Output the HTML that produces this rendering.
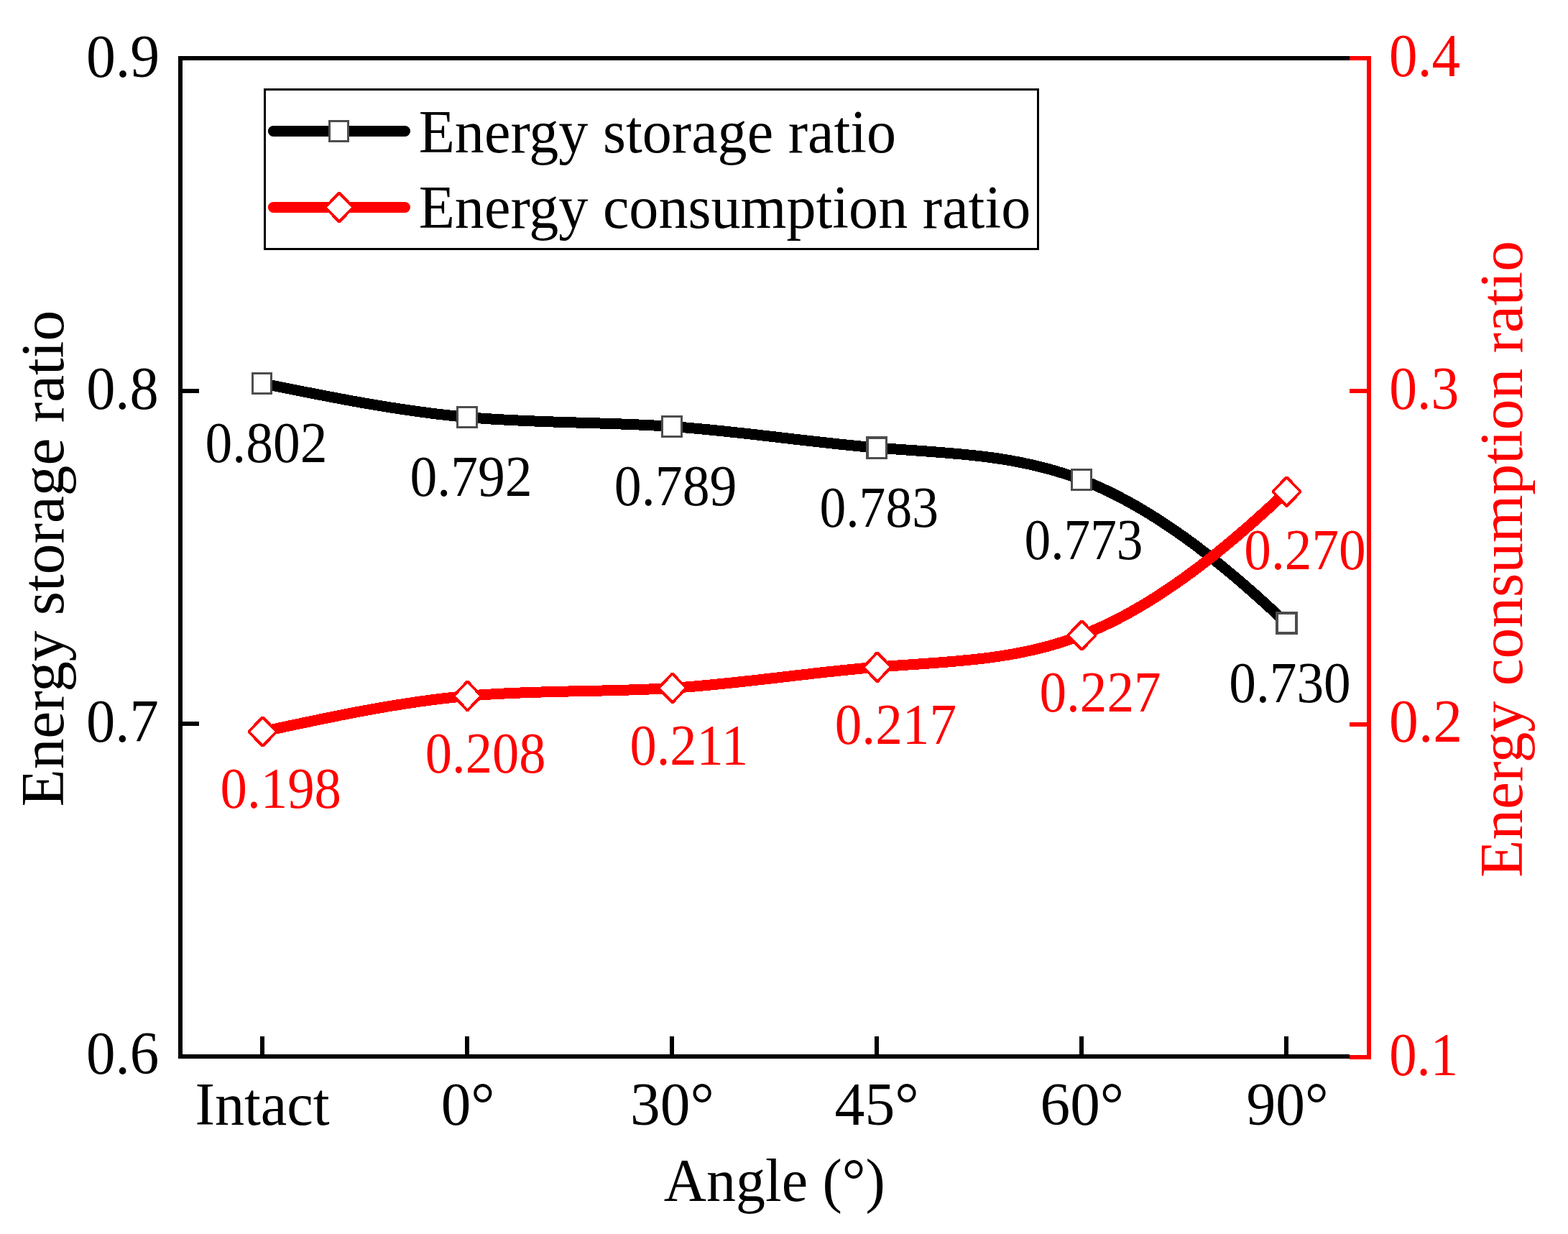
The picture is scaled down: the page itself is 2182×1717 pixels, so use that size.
<!DOCTYPE html>
<html lang="en"><head><meta charset="utf-8"><title>Energy storage and consumption ratio vs angle</title>
<style>html,body{margin:0;padding:0;background:#fff}body{width:2182px;height:1717px}svg{display:block}text{font-family:"Liberation Serif","DejaVu Serif",serif;white-space:pre}</style></head><body>
<svg width="2182" height="1717" viewBox="0 0 2182 1717">
<rect width="2182" height="1717" fill="#fff"/>
<g shape-rendering="crispEdges">
<rect x="248" y="78" width="6" height="1395" fill="#000000"/>
<rect x="248" y="78" width="1630" height="6" fill="#000000"/>
<rect x="248" y="1467" width="1630" height="6" fill="#000000"/>
<rect x="254" y="541" width="23" height="6" fill="#000000"/>
<rect x="254" y="1004" width="23" height="6" fill="#000000"/>
<rect x="362" y="1442" width="6" height="25" fill="#000000"/>
<rect x="647" y="1442" width="6" height="25" fill="#000000"/>
<rect x="932" y="1442" width="6" height="25" fill="#000000"/>
<rect x="1217" y="1442" width="6" height="25" fill="#000000"/>
<rect x="1502" y="1442" width="6" height="25" fill="#000000"/>
<rect x="1787" y="1442" width="6" height="25" fill="#000000"/>
<rect x="1902" y="78" width="6" height="1396" fill="#ff0000"/>
<rect x="1878" y="78" width="24" height="6" fill="#ff0000"/>
<rect x="1878" y="541" width="24" height="6" fill="#ff0000"/>
<rect x="1878" y="1004.5" width="24" height="6" fill="#ff0000"/>
<rect x="1878" y="1468" width="24" height="6" fill="#ff0000"/>
</g>
<text transform="translate(119.89,106.80) scale(0.9570,1)" font-size="85.5" fill="#000000">0.9</text>
<text transform="translate(120.14,568.65) scale(0.9406,1)" font-size="85.5" fill="#000000">0.8</text>
<text transform="translate(120.04,1031.70) scale(0.9422,1)" font-size="85.5" fill="#000000">0.7</text>
<text transform="translate(119.92,1494.45) scale(0.9475,1)" font-size="85.5" fill="#000000">0.6</text>
<text transform="translate(271.52,1564.92) scale(0.9616,1)" font-size="85.5" fill="#000000">Intact</text>
<text transform="translate(613.64,1564.65) scale(0.9727,1)" font-size="85.5" fill="#000000">0°</text>
<text transform="translate(877.10,1564.65) scale(0.9758,1)" font-size="85.5" fill="#000000">30°</text>
<text transform="translate(1161.59,1564.65) scale(0.9793,1)" font-size="85.5" fill="#000000">45°</text>
<text transform="translate(1447.55,1565.25) scale(0.9736,1)" font-size="85.5" fill="#000000">60°</text>
<text transform="translate(1734.58,1565.00) scale(0.9534,1)" font-size="85.5" fill="#000000">90°</text>
<text transform="translate(1933.09,105.60) scale(0.9252,1)" font-size="85.5" fill="#ff0000">0.4</text>
<text transform="translate(1933.25,568.95) scale(0.9077,1)" font-size="85.5" fill="#ff0000">0.3</text>
<text transform="translate(1933.10,1032.20) scale(0.9545,1)" font-size="85.5" fill="#ff0000">0.2</text>
<text transform="translate(1933.18,1495.50) scale(0.8975,1)" font-size="85.5" fill="#ff0000">0.1</text>
<text transform="translate(923.78,1671.30) scale(0.9584,1)" font-size="85.5" fill="#000000">Angle (°)</text>
<text transform="translate(88.10,1122.50) rotate(-90) scale(0.9988,1)" font-size="85.5" fill="#000000">Energy storage ratio</text>
<text transform="translate(2117.90,1220.90) rotate(-90) scale(0.9995,1)" font-size="85.5" fill="#ff0000">Energy consumption ratio</text>
<g shape-rendering="crispEdges">
<path d="M365.00,533.50 C460.00,552.72 555.00,571.94 650.00,580.50 C745.00,589.06 840.00,586.95 935.00,593.50 C1030.00,600.05 1125.00,615.26 1220.00,623.00 C1315.00,630.74 1410.00,631.00 1505.00,667.50 C1600.00,704.00 1695.00,776.75 1790.00,867.00" fill="none" stroke="#000000" stroke-width="15.0" stroke-linecap="butt" stroke-linejoin="round"/>
<path d="M365.00,1018.00 C460.00,997.46 555.00,976.92 650.00,968.40 C745.00,959.88 840.00,963.39 935.00,957.40 C1030.00,951.41 1125.00,935.93 1220.00,928.20 C1315.00,920.47 1410.00,920.51 1505.00,884.00 C1600.00,847.49 1695.00,774.45 1790.00,684.20" fill="none" stroke="#ff0000" stroke-width="15.0" stroke-linecap="butt" stroke-linejoin="round"/>
<rect x="350" y="518" width="29" height="31" fill="#4d4d4d"/><rect x="353" y="521" width="23" height="25" fill="#fff"/>
<rect x="635" y="565" width="30" height="31" fill="#4d4d4d"/><rect x="638" y="568" width="24" height="25" fill="#fff"/>
<rect x="920" y="578" width="30" height="31" fill="#4d4d4d"/><rect x="923" y="581" width="24" height="25" fill="#fff"/>
<rect x="1205" y="607" width="30" height="32" fill="#4d4d4d"/><rect x="1208.5" y="610.5" width="23" height="25" fill="#fff"/>
<rect x="1490" y="652" width="30" height="31" fill="#4d4d4d"/><rect x="1493" y="655" width="24" height="25" fill="#fff"/>
<rect x="1775" y="851" width="31" height="32" fill="#4d4d4d"/><rect x="1778.8" y="854.8" width="23.4" height="24.4" fill="#fff"/>
<path d="M344.85,1016.70 L363.75,996.60 L367.25,996.60 L386.15,1016.70 L386.15,1019.30 L367.25,1039.40 L363.75,1039.40 L344.85,1019.30 Z" fill="#ff0000"/><path d="M348.80,1018.00 L365.50,1000.75 L382.20,1018.00 L365.50,1035.25 Z" fill="#fff"/>
<path d="M629.85,967.10 L648.75,947.00 L652.25,947.00 L671.15,967.10 L671.15,969.70 L652.25,989.80 L648.75,989.80 L629.85,969.70 Z" fill="#ff0000"/><path d="M633.80,968.40 L650.50,951.15 L667.20,968.40 L650.50,985.65 Z" fill="#fff"/>
<path d="M915.05,956.10 L933.95,936.00 L937.45,936.00 L956.35,956.10 L956.35,958.70 L937.45,978.80 L933.95,978.80 L915.05,958.70 Z" fill="#ff0000"/><path d="M919.00,957.40 L935.70,940.15 L952.40,957.40 L935.70,974.65 Z" fill="#fff"/>
<path d="M1200.15,926.90 L1219.05,906.80 L1222.55,906.80 L1241.45,926.90 L1241.45,929.50 L1222.55,949.60 L1219.05,949.60 L1200.15,929.50 Z" fill="#ff0000"/><path d="M1204.10,928.20 L1220.80,910.95 L1237.50,928.20 L1220.80,945.45 Z" fill="#fff"/>
<path d="M1484.65,882.70 L1503.55,862.60 L1507.05,862.60 L1525.95,882.70 L1525.95,885.30 L1507.05,905.40 L1503.55,905.40 L1484.65,885.30 Z" fill="#ff0000"/><path d="M1488.60,884.00 L1505.30,866.75 L1522.00,884.00 L1505.30,901.25 Z" fill="#fff"/>
<path d="M1769.85,682.90 L1788.75,662.80 L1792.25,662.80 L1811.15,682.90 L1811.15,685.50 L1792.25,705.60 L1788.75,705.60 L1769.85,685.50 Z" fill="#ff0000"/><path d="M1773.80,684.20 L1790.50,666.95 L1807.20,684.20 L1790.50,701.45 Z" fill="#fff"/>
</g>
<text transform="translate(285.58,643.48) scale(0.9403,1)" font-size="80.3" fill="#000000">0.802</text>
<text transform="translate(570.47,690.48) scale(0.9420,1)" font-size="80.3" fill="#000000">0.792</text>
<text transform="translate(854.87,703.33) scale(0.9446,1)" font-size="80.3" fill="#000000">0.789</text>
<text transform="translate(1140.45,733.02) scale(0.9163,1)" font-size="80.3" fill="#000000">0.783</text>
<text transform="translate(1425.46,777.58) scale(0.9140,1)" font-size="80.3" fill="#000000">0.773</text>
<text transform="translate(1710.29,977.27) scale(0.9381,1)" font-size="80.3" fill="#000000">0.730</text>
<text transform="translate(306.60,1124.18) scale(0.9318,1)" font-size="80.3" fill="#ff0000">0.198</text>
<text transform="translate(591.81,1074.97) scale(0.9284,1)" font-size="80.3" fill="#ff0000">0.208</text>
<text transform="translate(876.52,1063.62) scale(0.9267,1)" font-size="80.3" fill="#ff0000">0.211</text>
<text transform="translate(1161.69,1035.18) scale(0.9375,1)" font-size="80.3" fill="#ff0000">0.217</text>
<text transform="translate(1446.39,990.12) scale(0.9369,1)" font-size="80.3" fill="#ff0000">0.227</text>
<text transform="translate(1731.29,791.53) scale(0.9381,1)" font-size="80.3" fill="#ff0000">0.270</text>
<rect x="368.5" y="124.5" width="1076" height="222" fill="#fff" stroke="#000000" stroke-width="3" shape-rendering="crispEdges"/>
<line x1="380.40" y1="182.5" x2="563.50" y2="182.5" stroke="#000000" stroke-width="15.0" stroke-linecap="round"/>
<g shape-rendering="crispEdges">
<rect x="457" y="167" width="29" height="31" fill="#4d4d4d"/><rect x="460" y="170" width="23" height="25" fill="#fff"/>
</g>
<text transform="translate(582.70,211.90) scale(0.9608,1)" font-size="85.5" fill="#000000">Energy storage ratio</text>
<line x1="380.40" y1="288.5" x2="563.50" y2="288.5" stroke="#ff0000" stroke-width="15.0" stroke-linecap="round"/>
<g shape-rendering="crispEdges">
<path d="M451.40,287.10 L470.30,267.00 L473.80,267.00 L492.70,287.10 L492.70,289.70 L473.80,309.80 L470.30,309.80 L451.40,289.70 Z" fill="#ff0000"/><path d="M455.35,288.40 L472.05,271.15 L488.75,288.40 L472.05,305.65 Z" fill="#fff"/>
</g>
<text transform="translate(582.70,316.60) scale(0.9607,1)" font-size="85.5" fill="#000000">Energy consumption ratio</text>
</svg></body></html>
